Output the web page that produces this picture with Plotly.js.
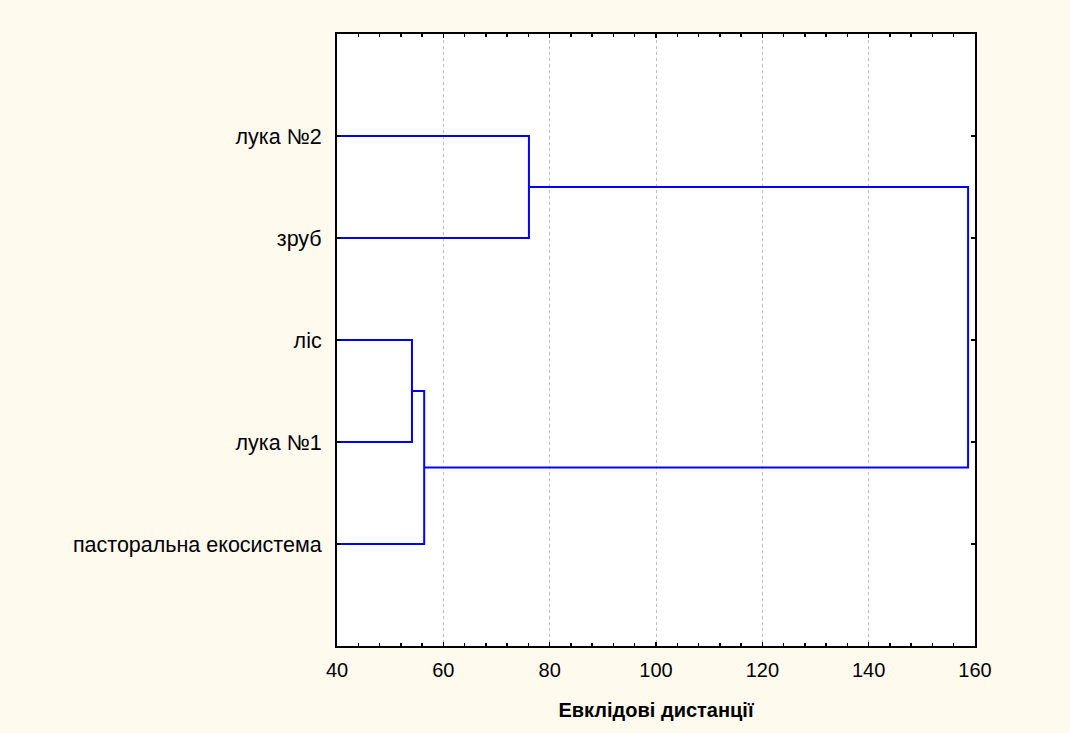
<!DOCTYPE html>
<html>
<head>
<meta charset="utf-8">
<script src="https://cdn.plot.ly/plotly-3.0.1.min.js"></script>
<style>html,body{margin:0;padding:0;background:#FFF9EE;}</style>
</head>
<body>
<div id="chart" style="width:1070px;height:733px;"></div>
<script>
// Leaves, top to bottom
const leafLabels = ['лука №2', 'зруб', 'ліс', 'лука №1', 'пасторальна екосистема'];
// Linkage: [child A, child B, distance]; new clusters get ids 5, 6, 7, 8
const mergeA = [2, 5, 0, 7];
const mergeB = [3, 4, 1, 6];
const mergeDist = [54.1, 56.4, 76.1, 158.7];
const xTicks = [40, 60, 80, 100, 120, 140, 160];
const xTitle = 'Евклідові дистанції';
const leafDist = 40;

const pos = {}, hgt = {};
leafLabels.forEach((l, i) => { pos[i] = i + 1; hgt[i] = leafDist; });
const xs = [], ys = [];
mergeA.forEach((a, k) => {
  const b = mergeB[k], d = mergeDist[k], id = leafLabels.length + k;
  xs.push(hgt[a], d, d, hgt[b], null);
  ys.push(pos[a], pos[a], pos[b], pos[b], null);
  pos[id] = (pos[a] + pos[b]) / 2;
  hgt[id] = d;
});

const trace = {
  x: xs, y: ys, type: 'scatter', mode: 'lines',
  line: {color: '#0000FF', width: 2}, hoverinfo: 'skip', showlegend: false
};

const layout = {
  width: 1070, height: 733,
  paper_bgcolor: '#FFF9EE', plot_bgcolor: '#FFFFFF',
  margin: {l: 337, r: 95, t: 34, b: 87},
  font: {family: 'Arial, Liberation Sans, sans-serif', color: '#000'},
  xaxis: {
    range: [40, 160], tickvals: xTicks, ticktext: xTicks.map(String),
    showline: true, linecolor: '#000', linewidth: 2, mirror: 'ticks',
    ticks: 'inside', ticklen: 4, tickcolor: '#000', tickwidth: 1.5,
    minor: {dtick: 4, tick0: 40, ticks: 'inside', ticklen: 3, tickcolor: '#000', showgrid: false},
    showgrid: true, gridcolor: '#BDBDBD', griddash: 'dot', gridwidth: 1,
    zeroline: false, tickfont: {size: 20}, ticklabelstandoff: 5,
    title: {text: '<b>' + xTitle + '</b>', font: {size: 20}, standoff: 23}
  },
  yaxis: {
    range: [6, 0], tickvals: leafLabels.map((l, i) => i + 1), ticktext: leafLabels,
    showline: true, linecolor: '#000', linewidth: 2, mirror: 'ticks',
    ticks: 'inside', ticklen: 4, tickcolor: '#000', tickwidth: 1.5,
    showgrid: false, zeroline: false, tickfont: {size: 21.5}, ticklabelstandoff: 9
  }
};

Plotly.newPlot('chart', [trace], layout, {displayModeBar: false, staticPlot: true});
</script>
</body>
</html>
